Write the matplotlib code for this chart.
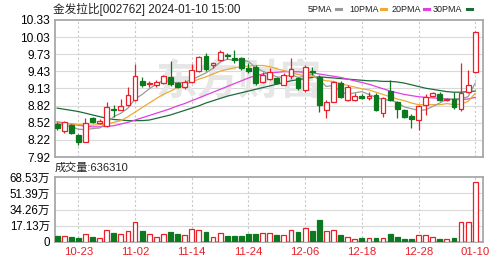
import matplotlib
matplotlib.use("Agg")
import matplotlib.pyplot as plt
from matplotlib.lines import Line2D
import numpy as np

plt.rcParams['font.family'] = ['Liberation Sans', 'Noto Sans CJK SC', 'DejaVu Sans']

# daily k-line, 金发拉比 002762
dates = ['10-18', '10-19', '10-20', '10-23', '10-24', '10-25', '10-26', '10-27', '10-30', '10-31',
         '11-01', '11-02', '11-03', '11-06', '11-07', '11-08', '11-09', '11-10', '11-13', '11-14',
         '11-15', '11-16', '11-17', '11-20', '11-21', '11-22', '11-23', '11-24', '11-27', '11-28',
         '11-29', '11-30', '12-01', '12-04', '12-05', '12-06', '12-07', '12-08', '12-11', '12-12',
         '12-13', '12-14', '12-15', '12-18', '12-19', '12-20', '12-21', '12-22', '12-25', '12-26',
         '12-27', '12-28', '12-29', '01-02', '01-03', '01-04', '01-05', '01-08', '01-09', '01-10']
opens = [8.50, 8.37, 8.48, 8.30, 8.19, 8.60, 8.52, 8.46, 8.77, 8.75,
         8.84, 8.93, 9.26, 9.21, 9.19, 9.22, 9.33, 9.22, 9.15, 9.24,
         9.43, 9.70, 9.53, 9.63, 9.72, 9.66, 9.66, 9.49, 9.51, 9.24,
         9.29, 9.31, 9.19, 9.34, 9.31, 9.09, 9.43, 9.33, 8.75, 8.89,
         9.22, 8.92, 8.93, 8.99, 8.96, 9.01, 8.69, 9.08, 8.89, 8.74,
         8.65, 8.57, 8.84, 8.99, 9.02, 8.92, 8.94, 8.76, 9.07, 9.42]
highs = [8.53, 8.56, 8.50, 8.33, 8.60, 8.63, 8.59, 8.89, 8.83, 8.94,
         9.16, 9.56, 9.33, 9.26, 9.27, 9.36, 9.60, 9.24, 9.27, 9.55,
         9.70, 9.75, 9.59, 9.80, 9.75, 9.80, 9.68, 9.58, 9.54, 9.42,
         9.49, 9.33, 9.40, 9.66, 9.33, 9.54, 9.50, 9.36, 8.93, 9.26,
         9.25, 9.18, 9.05, 9.03, 9.06, 9.04, 8.98, 9.27, 8.91, 8.77,
         8.67, 8.84, 9.02, 9.07, 9.06, 8.95, 9.06, 9.57, 9.45, 10.14]
lows = [8.40, 8.35, 8.32, 8.13, 8.18, 8.51, 8.50, 8.45, 8.62, 8.74,
        8.82, 8.91, 9.15, 9.16, 9.15, 9.20, 9.17, 9.13, 9.11, 9.22,
        9.41, 9.44, 9.49, 9.60, 9.64, 9.58, 9.45, 9.40, 9.19, 9.22,
        9.27, 9.21, 9.18, 9.30, 9.10, 9.07, 9.36, 8.71, 8.60, 8.88,
        8.96, 8.90, 8.90, 8.94, 8.93, 8.73, 8.62, 8.90, 8.60, 8.60,
        8.43, 8.40, 8.66, 8.97, 8.91, 8.90, 8.77, 8.73, 9.05, 9.40]
closes = [8.43, 8.53, 8.35, 8.18, 8.52, 8.53, 8.55, 8.80, 8.75, 8.81,
          9.01, 9.35, 9.19, 9.23, 9.24, 9.34, 9.20, 9.15, 9.24, 9.45,
          9.68, 9.47, 9.57, 9.77, 9.69, 9.62, 9.49, 9.43, 9.23, 9.36,
          9.41, 9.23, 9.36, 9.47, 9.13, 9.51, 9.42, 8.84, 8.89, 9.24,
          8.98, 9.15, 9.00, 8.96, 9.00, 8.75, 8.96, 8.92, 8.76, 8.63,
          8.59, 8.81, 8.97, 9.05, 8.93, 8.93, 8.80, 9.05, 9.19, 10.12]
# volume in 万 shares
volumes = [6.0, 6.0, 5.3, 4.2, 8.1, 5.3, 4.2, 13.0, 9.5, 8.1,
           11.9, 21.1, 11.9, 8.8, 5.3, 8.8, 10.2, 8.4, 7.0, 13.4,
           13.0, 10.2, 5.3, 9.8, 6.0, 6.0, 6.7, 8.4, 8.8, 9.5,
           9.5, 7.0, 7.0, 12.3, 10.5, 15.1, 11.2, 22.8, 11.2, 13.0,
           7.0, 5.3, 3.2, 4.2, 4.2, 4.2, 4.2, 8.8, 5.3, 2.8,
           2.8, 7.7, 7.0, 5.3, 2.8, 2.8, 4.6, 21.1, 21.1, 63.631]

ma5 = [8.50, 8.48, 8.45, 8.41, 8.40, 8.42, 8.43, 8.52, 8.63, 8.69,
       8.78, 8.94, 9.02, 9.12, 9.20, 9.27, 9.24, 9.23, 9.23, 9.28,
       9.34, 9.40, 9.48, 9.59, 9.64, 9.62, 9.63, 9.60, 9.49, 9.43,
       9.38, 9.33, 9.32, 9.37, 9.32, 9.34, 9.38, 9.27, 9.16, 9.18,
       9.07, 9.02, 9.05, 9.07, 9.02, 8.97, 8.93, 8.92, 8.88, 8.80,
       8.77, 8.74, 8.75, 8.81, 8.87, 8.94, 8.94, 8.95, 8.98, 9.22]
ma10 = [8.52, 8.51, 8.50, 8.49, 8.48, 8.48, 8.49, 8.50, 8.53, 8.56,
        8.63, 8.71, 8.79, 8.87, 8.95, 9.02, 9.08, 9.14, 9.19, 9.24,
        9.29, 9.33, 9.38, 9.43, 9.46, 9.49, 9.51, 9.52, 9.53, 9.53,
        9.51, 9.47, 9.44, 9.41, 9.37, 9.35, 9.34, 9.29, 9.26, 9.25,
        9.21, 9.18, 9.15, 9.12, 9.10, 9.06, 9.02, 8.98, 8.94, 8.91,
        8.87, 8.84, 8.84, 8.84, 8.84, 8.86, 8.84, 8.85, 8.90, 9.04]
ma20 = [8.54, 8.52, 8.50, 8.48, 8.46, 8.45, 8.45, 8.46, 8.47, 8.50,
        8.53, 8.57, 8.61, 8.65, 8.69, 8.73, 8.77, 8.82, 8.86, 8.91,
        8.96, 9.01, 9.06, 9.11, 9.16, 9.21, 9.26, 9.31, 9.35, 9.38,
        9.40, 9.41, 9.42, 9.42, 9.42, 9.41, 9.40, 9.38, 9.36, 9.34,
        9.32, 9.29, 9.26, 9.23, 9.20, 9.16, 9.12, 9.08, 9.05, 9.02,
        9.00, 8.98, 8.97, 8.96, 8.95, 8.94, 8.93, 8.93, 8.94, 8.97]
ma30 = [8.78, 8.76, 8.74, 8.72, 8.69, 8.66, 8.63, 8.60, 8.58, 8.57,
        8.56, 8.56, 8.56, 8.57, 8.60, 8.63, 8.66, 8.70, 8.74, 8.78,
        8.82, 8.87, 8.91, 8.95, 8.99, 9.02, 9.05, 9.08, 9.11, 9.14,
        9.17, 9.20, 9.23, 9.26, 9.28, 9.30, 9.32, 9.33, 9.32, 9.31,
        9.30, 9.29, 9.28, 9.27, 9.26, 9.26, 9.25, 9.25, 9.24, 9.22,
        9.19, 9.16, 9.13, 9.11, 9.09, 9.07, 9.06, 9.06, 9.07, 9.08]

price_ticks = [7.92, 8.22, 8.52, 8.82, 9.13, 9.43, 9.73, 10.03, 10.33]
vol_ticks = [0, 17.13, 34.26, 51.39, 68.53]
vol_tick_labels = ['0', '17.13万', '34.26万', '51.39万', '68.53万']

RED = '#e8202a'
GREEN = '#0b7a1e'
GRID = '#d9d9d9'
BORDER = '#a8a8a8'

x = np.arange(len(dates))
o = np.array(opens)
c = np.array(closes)
up = c >= o
date_idx = x[3::8]

fig = plt.figure(figsize=(5.03, 2.62), dpi=100)
ax = fig.add_axes([55 / 503, 1 - 157 / 262, 428 / 503, 137 / 262])
axv = fig.add_axes([55 / 503, 1 - 242 / 262, 428 / 503, 65 / 262])

for a in (ax, axv):
    a.set_xlim(-0.3, 60.1)
    for s in a.spines.values():
        s.set_color(BORDER)
        s.set_linewidth(1.3)
    a.tick_params(length=0, labelsize=8.6, pad=3.5)
    for xi in date_idx:
        a.axvline(xi, color='#c8c8c8', lw=0.8, ls=(0, (2, 2)), zorder=0)

# price panel
ax.set_ylim(price_ticks[0], price_ticks[-1])
ax.set_yticks(price_ticks)
ax.set_yticklabels(['%.2f' % t for t in price_ticks])
for t in price_ticks[1:-1]:
    ax.axhline(t, color=GRID, lw=0.8, zorder=0)
ax.set_xticks([])
ax.text(0.43, 0.55, '东方财富', transform=ax.transAxes, fontsize=30, fontweight='bold',
        style='italic', color='#e6e6e6', ha='center', va='center', zorder=0.5)

ax.plot(x, ma30, color='#1e6b3a', lw=0.9, zorder=2)
ax.plot(x, ma20, color='#e23ee2', lw=0.9, zorder=2)
ax.plot(x, ma10, color='#eeaa33', lw=0.9, zorder=2)
ax.plot(x, ma5, color='#9a9a9a', lw=0.9, zorder=2)

colors = np.where(up, RED, GREEN)
ax.vlines(x, lows, highs, colors=colors, lw=0.9, zorder=3)
body_lo = np.minimum(o, c)
body_h = np.maximum(np.abs(c - o), 0.012)
ax.bar(x, body_h, bottom=body_lo, width=0.68, color=np.where(up, 'white', GREEN),
       edgecolor=colors, linewidth=0.9, zorder=4)

# volume panel
axv.set_ylim(0, vol_ticks[-1])
axv.set_yticks(vol_ticks)
axv.set_yticklabels(vol_tick_labels, fontsize=8.3)
for t in vol_ticks[1:-1]:
    axv.axhline(t, color=GRID, lw=0.8, zorder=0)
axv.bar(x, volumes, width=0.68, color=np.where(up, 'white', GREEN),
        edgecolor=colors, linewidth=0.9, zorder=3)
axv.set_xticks(date_idx)
axv.set_xticklabels([dates[i] for i in date_idx], color=RED, fontsize=8.2)

# header texts
fig.text(53 / 503, 1 - 9 / 262, '金发拉比[002762] 2024-01-10 15:00', fontsize=8.4,
         va='center', ha='left', color='#222222')
fig.text(55 / 503, 1 - 168 / 262, '成交量:%d' % round(volumes[-1] * 10000), fontsize=8,
         va='center', ha='left', color='#222222')

legend_items = [('5PMA', '#9a9a9a', 308, 336), ('10PMA', '#eeaa33', 349, 381),
                ('20PMA', '#e23ee2', 392, 424), ('30PMA', '#1e6b3a', 433, 467)]
for name, col, px, dx in legend_items:
    fig.text(px / 503, 1 - 9 / 262, name, fontsize=6.5, va='center', ha='left', color='#222222')
    fig.add_artist(Line2D([dx / 503, (dx + 5) / 503], [1 - 9 / 262, 1 - 9 / 262],
                          color=col, lw=2.2, transform=fig.transFigure))

fig.savefig('out.png', dpi=100)
